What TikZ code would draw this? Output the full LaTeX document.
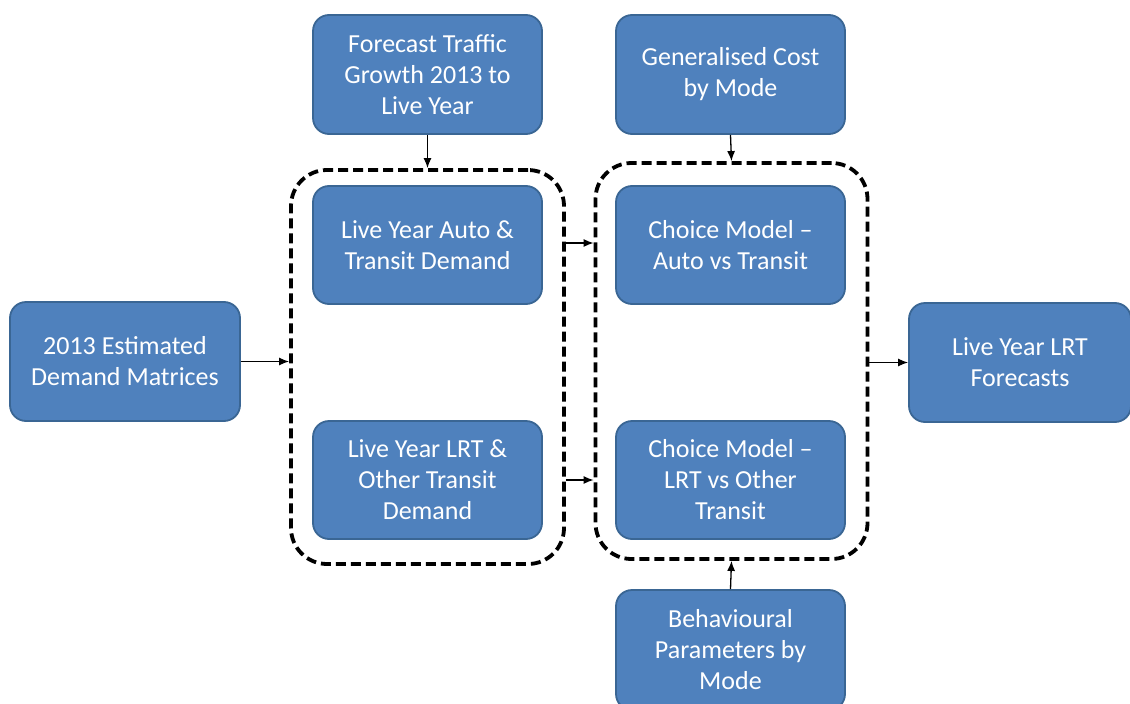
\documentclass[tikz,border=0pt]{standalone}
\usepackage{fontspec}
\setmainfont{Carlito}
\usetikzlibrary{arrows.meta}
\definecolor{boxfill}{HTML}{4F81BD}
\definecolor{boxline}{HTML}{3A6694}
\begin{document}
\begin{tikzpicture}[x=1pt,y=-1pt,
  blue box/.style={draw=boxline, line width=1.8pt, fill=boxfill, rounded corners=16pt,
    text=white, align=center, inner sep=0pt,
    font=\fontsize{26}{31}\selectfont},
  group box/.style={draw=black, line width=3.8pt, dash pattern=on 10pt off 5pt, rounded corners=36pt},
  flow/.style={draw=black, line width=1.3pt, -{Latex[length=10pt,width=8pt]}}
]
\useasboundingbox[fill=white] (0,0) rectangle (1130,704);

\node[blue box, minimum width=229pt, minimum height=119pt] (forecast) at (427.5,74.5) {Forecast Traffic\\Growth 2013 to\\Live Year};
\node[blue box, minimum width=229pt, minimum height=119pt] (gencost) at (730.5,74.5) {Generalised Cost\\by Mode};

\node[group box, minimum width=273pt, minimum height=394pt] (leftgrp) at (427.5,367) {};
\node[group box, minimum width=272pt, minimum height=396pt] (rightgrp) at (731.5,361) {};

\node[blue box, minimum width=229pt, minimum height=118pt] (autodem) at (427.5,245) {Live Year Auto \&\\Transit Demand};
\node[blue box, minimum width=229pt, minimum height=118pt] (lrtdem) at (427.5,480) {Live Year LRT \&\\Other Transit\\Demand};
\node[blue box, minimum width=229pt, minimum height=118pt] (choice1) at (730.5,245) {Choice Model --\\Auto vs Transit};
\node[blue box, minimum width=229pt, minimum height=118pt] (choice2) at (730.5,480) {Choice Model --\\LRT vs Other\\Transit};

\node[blue box, minimum width=230pt, minimum height=119pt] (est) at (125,361.5) {2013 Estimated\\Demand Matrices};
\node[blue box, minimum width=222pt, minimum height=119pt] (lrtfc) at (1020,362.5) {Live Year LRT\\Forecasts};
\node[blue box, minimum width=229pt, minimum height=120pt] (behav) at (730.5,650) {Behavioural\\Parameters by\\Mode};

\draw[flow] (forecast.south) -- (leftgrp.north);
\draw[flow] (gencost.south) -- (rightgrp.north);
\draw[flow] (est.east) -- (leftgrp.west |- est.east);
\draw[flow] (leftgrp.east |- 0,243) -- (rightgrp.west |- 0,243);
\draw[flow] (leftgrp.east |- 0,480) -- (rightgrp.west |- 0,480);
\draw[flow] (rightgrp.east |- lrtfc.west) -- (lrtfc.west);
\draw[flow] (behav.north) -- (rightgrp.south);
\end{tikzpicture}
\end{document}
